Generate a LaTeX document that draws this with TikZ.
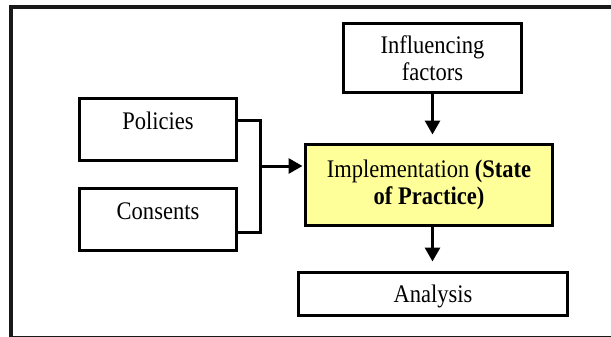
\documentclass[tikz,border=0pt]{standalone}
\usepackage{fontspec}
\setmainfont[FakeStretch=0.89]{Liberation Serif}
\usepackage{tikz}
\usepackage{xcolor}
\usetikzlibrary{arrows.meta}
\definecolor{implyellow}{HTML}{FFFF99}
\tikzset{box/.style={draw, line width=3pt, inner sep=0pt, align=center,
   font=\fontsize{25.3}{26.8}\selectfont},
 onebox/.style={box, text height=15pt, text depth=15pt},
 implbox/.style={box, fill=implyellow},
 link/.style={line width=3pt},
 arr/.style={line width=3pt, -{Triangle[length=14pt,width=15pt]}},
 }

\begin{document}
\begin{tikzpicture}[x=1pt, y=-1pt]
        \useasboundingbox (0,0) rectangle (611,337);
        \clip (0,0) rectangle (611,337);
        \draw[line width=3.5pt, black!90] (11,7) rectangle (650,337.5);
        \node[box, minimum width=178pt, minimum height=69pt] (infl) at (432.5,58) {Influencing\\factors};
        \node[onebox, minimum width=157pt, minimum height=62pt] (pol) at (158,129.5) {Policies};
        \node[onebox, minimum width=157pt, minimum height=62pt] (cons) at (158,219.5) {Consents};
        \node[implbox, minimum width=247pt, minimum height=81pt] (impl) at (429,185) {Implementation \textbf{(State}\\\textbf{of Practice)}};
        \node[box, text height=17pt, text depth=0pt, minimum width=269pt, minimum height=43pt] (anal) at (433,293.5) {Analysis};
        \coordinate (jn) at (260,166);
        \draw[link] (pol.east |- 0,120.5) -| (jn |- 0,232.5) -- (cons.east |- 0,232.5);
        \draw[arr] (jn) -- ([xshift=-1.5pt]impl.west |- jn);
        \draw[arr] (infl.south) -- ++(0,40.5);
        \draw[arr] ([xshift=3.5pt]impl.south) -- ++(0,34.5);
    \end{tikzpicture}
\end{document}
